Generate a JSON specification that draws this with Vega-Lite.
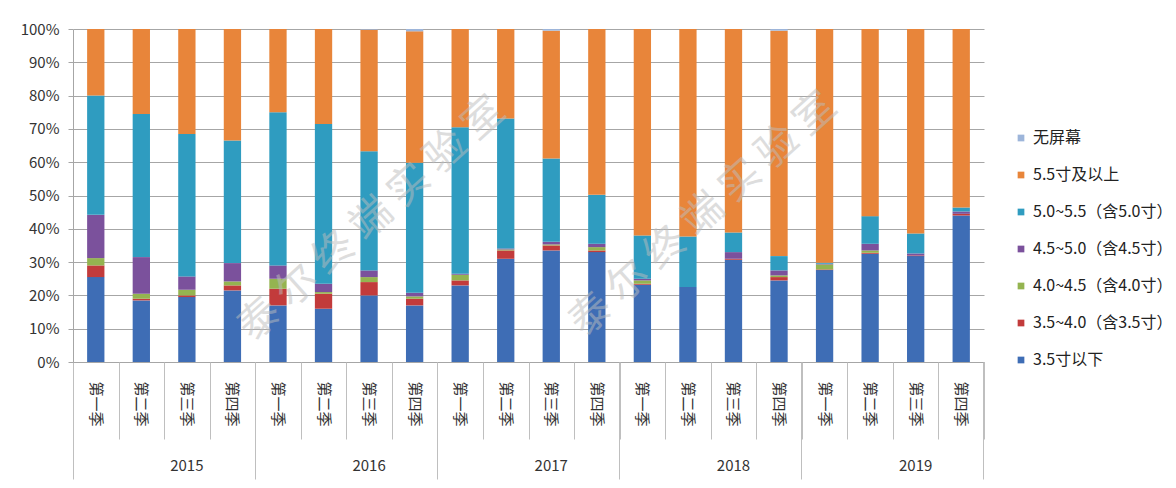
{
  "$schema": "https://vega.github.io/schema/vega-lite/v6.json",
  "width": 911,
  "height": 333,
  "padding": {"left": 20, "top": 22, "right": 0, "bottom": 0},
  "background": "white",
  "config": {
    "font": "Noto Sans CJK SC",
    "view": {"stroke": null},
    "axis": {"labelColor": "#333333", "titleColor": "#333333"}
  },
  "datasets": {
    "bars": [
      {"k": "2015-1", "a": 25.5, "b": 3.5, "c": 2.2, "d": 13.0, "e": 35.8, "f": 20.0, "g": 0},
      {"k": "2015-2", "a": 18.5, "b": 0.5, "c": 1.5, "d": 11.0, "e": 43.0, "f": 25.5, "g": 0},
      {"k": "2015-3", "a": 19.5, "b": 0.5, "c": 1.7, "d": 4.0, "e": 42.8, "f": 31.5, "g": 0},
      {"k": "2015-4", "a": 21.5, "b": 1.5, "c": 1.2, "d": 5.5, "e": 36.8, "f": 33.5, "g": 0},
      {"k": "2016-1", "a": 17.0, "b": 5.0, "c": 3.0, "d": 4.0, "e": 46.0, "f": 25.0, "g": 0},
      {"k": "2016-2", "a": 16.0, "b": 4.5, "c": 0.5, "d": 2.5, "e": 48.0, "f": 28.5, "g": 0},
      {"k": "2016-3", "a": 20.0, "b": 4.0, "c": 1.5, "d": 2.0, "e": 35.8, "f": 36.5, "g": 0.2},
      {"k": "2016-4", "a": 17.0, "b": 2.0, "c": 0.7, "d": 1.1, "e": 39.0, "f": 39.5, "g": 0.7},
      {"k": "2017-1", "a": 23.0, "b": 1.5, "c": 1.7, "d": 0.3, "e": 44.0, "f": 29.5, "g": 0},
      {"k": "2017-2", "a": 31.0, "b": 2.5, "c": 0.3, "d": 0.3, "e": 39.0, "f": 26.9, "g": 0},
      {"k": "2017-3", "a": 33.5, "b": 1.5, "c": 0.3, "d": 0.8, "e": 25.0, "f": 38.4, "g": 0.5},
      {"k": "2017-4", "a": 33.0, "b": 0.5, "c": 1.0, "d": 1.0, "e": 14.7, "f": 49.8, "g": 0},
      {"k": "2018-1", "a": 23.2, "b": 0.3, "c": 1.0, "d": 0.5, "e": 13.0, "f": 62.0, "g": 0},
      {"k": "2018-2", "a": 22.5, "b": 0, "c": 0, "d": 0, "e": 15.2, "f": 62.3, "g": 0},
      {"k": "2018-3", "a": 30.7, "b": 0.3, "c": 0, "d": 2.0, "e": 5.9, "f": 61.1, "g": 0},
      {"k": "2018-4", "a": 24.5, "b": 1.0, "c": 0.5, "d": 1.5, "e": 4.3, "f": 67.7, "g": 0.5},
      {"k": "2019-1", "a": 27.6, "b": 0.2, "c": 1.5, "d": 0.2, "e": 0.3, "f": 70.2, "g": 0},
      {"k": "2019-2", "a": 32.5, "b": 0.3, "c": 0.7, "d": 2.0, "e": 8.3, "f": 56.2, "g": 0},
      {"k": "2019-3", "a": 31.8, "b": 0.2, "c": 0, "d": 0.6, "e": 6.0, "f": 61.4, "g": 0},
      {"k": "2019-4", "a": 44.0, "b": 0.5, "c": 0, "d": 0.7, "e": 1.2, "f": 53.6, "g": 0}
    ],
    "names": [
      {"s": "a", "name": "3.5寸以下", "o": 1},
      {"s": "b", "name": "3.5~4.0（含3.5寸）", "o": 2},
      {"s": "c", "name": "4.0~4.5（含4.0寸）", "o": 3},
      {"s": "d", "name": "4.5~5.0（含4.5寸）", "o": 4},
      {"s": "e", "name": "5.0~5.5（含5.0寸）", "o": 5},
      {"s": "f", "name": "5.5寸及以上", "o": 6},
      {"s": "g", "name": "无屏幕", "o": 7}
    ],
    "wm1": [
      {"k": "2016-3", "wy": 0.42, "t": "泰 尔 终 端 实 验 室"}
    ],
    "wm2": [
      {"k": "2018-2", "wy": 0.40, "t": "泰 尔 终 端 实 验 室"}
    ]
  },
  "resolve": {"axis": {"x": "independent", "y": "independent"}},
  "layer": [
    {
      "data": {"name": "bars"},
      "transform": [
        {"fold": ["a", "b", "c", "d", "e", "f", "g"], "as": ["s", "v"]},
        {"lookup": "s", "from": {"data": {"name": "names"}, "key": "s", "fields": ["name", "o"]}}
      ],
      "mark": {"type": "bar", "width": {"band": 0.38}},
      "encoding": {
        "x": {
          "field": "k", "type": "nominal",
          "scale": {"paddingInner": 0, "paddingOuter": 0},
          "axis": {
            "orient": "bottom", "title": null, "ticks": false, "grid": false,
            "domain": true, "domainColor": "#A6A6A6",
            "labelExpr": "['','第一季','第二季','第三季','第四季'][toNumber(substring(datum.value,5,6))]",
            "labelAngle": 90, "labelAlign": "left", "labelBaseline": "middle",
            "labelPadding": 19, "labelFontSize": 15, "labelColor": "#333333"
          }
        },
        "y": {
          "field": "v", "type": "quantitative", "stack": "normalize",
          "scale": {"domain": [0, 1], "nice": false},
          "axis": {
            "orient": "left", "title": null, "format": ".0%",
            "values": [0, 0.1, 0.2, 0.3, 0.4, 0.5, 0.6, 0.7, 0.8, 0.9, 1],
            "grid": true, "gridColor": "#A6A6A6", "gridWidth": 1,
            "domain": true, "domainColor": "#A6A6A6",
            "ticks": true, "tickSize": 5, "tickColor": "#A6A6A6",
            "labelPadding": 9, "labelFontSize": 15, "labelColor": "#333333"
          }
        },
        "color": {
          "field": "name", "type": "nominal",
          "scale": {
            "domain": ["无屏幕", "5.5寸及以上", "5.0~5.5（含5.0寸）", "4.5~5.0（含4.5寸）", "4.0~4.5（含4.0寸）", "3.5~4.0（含3.5寸）", "3.5寸以下"],
            "range": ["#9DB5DA", "#E8853A", "#2F9CC0", "#7B519C", "#94B450", "#C23B3B", "#3E6DB5"]
          },
          "legend": {
            "title": null, "orient": "none", "legendX": 940, "legendY": 101,
            "symbolType": "square", "symbolSize": 45, "symbolStrokeWidth": 0,
            "labelFontSize": 16, "labelColor": "#222222", "rowPadding": 21, "labelOffset": 4
          }
        },
        "order": {"field": "o", "type": "quantitative"}
      }
    },
    {
      "data": {"name": "bars"},
      "mark": {"type": "point", "opacity": 0},
      "encoding": {
        "x": {
          "field": "k", "type": "nominal",
          "axis": {
            "orient": "bottom", "title": null, "labels": false, "domain": false, "grid": false,
            "ticks": true, "tickBand": "extent", "tickSize": 77, "tickColor": "#BFBFBF", "tickWidth": 1
          }
        }
      }
    },
    {
      "data": {"name": "bars"},
      "mark": {"type": "point", "opacity": 0},
      "encoding": {
        "x": {
          "field": "k", "type": "nominal",
          "axis": {
            "orient": "bottom", "title": null, "labels": false, "domain": false, "grid": false,
            "values": ["2015-1", "2016-1", "2017-1", "2018-1", "2019-1"], "bandPosition": 0,
            "ticks": true, "tickSize": 117, "tickColor": "#BFBFBF", "tickWidth": 1
          }
        }
      }
    },
    {
      "data": {"name": "bars"},
      "mark": {"type": "point", "opacity": 0},
      "encoding": {
        "x": {
          "field": "k", "type": "nominal",
          "axis": {
            "orient": "bottom", "title": null, "labels": false, "domain": false, "grid": false,
            "values": ["2019-4"], "bandPosition": 1,
            "ticks": true, "tickSize": 117, "tickColor": "#BFBFBF", "tickWidth": 1
          }
        }
      }
    },
    {
      "data": {"name": "bars"},
      "mark": {"type": "point", "opacity": 0},
      "encoding": {
        "x": {
          "field": "k", "type": "nominal",
          "axis": {
            "orient": "bottom", "title": null, "ticks": false, "domain": false, "grid": false,
            "values": ["2015-3", "2016-3", "2017-3", "2018-3", "2019-3"], "bandPosition": 0,
            "labelExpr": "substring(datum.value,0,4)", "labelAngle": 0,
            "labelAlign": "center", "labelBaseline": "top",
            "labelPadding": 96, "labelFontSize": 15, "labelColor": "#333333"
          }
        }
      }
    },
    {
      "data": {"name": "wm1"},
      "mark": {"type": "text", "angle": -42, "fontSize": 41, "color": "#BDBDBD", "opacity": 0.5, "dx": 4, "font": "Noto Sans CJK SC"},
      "encoding": {
        "x": {"field": "k", "type": "nominal", "axis": null},
        "y": {"field": "wy", "type": "quantitative", "axis": null},
        "text": {"field": "t"}
      }
    },
    {
      "data": {"name": "wm2"},
      "mark": {"type": "text", "angle": -42, "fontSize": 41, "color": "#BDBDBD", "opacity": 0.5, "dx": 21, "font": "Noto Sans CJK SC"},
      "encoding": {
        "x": {"field": "k", "type": "nominal", "axis": null},
        "y": {"field": "wy", "type": "quantitative", "axis": null},
        "text": {"field": "t"}
      }
    }
  ]
}
